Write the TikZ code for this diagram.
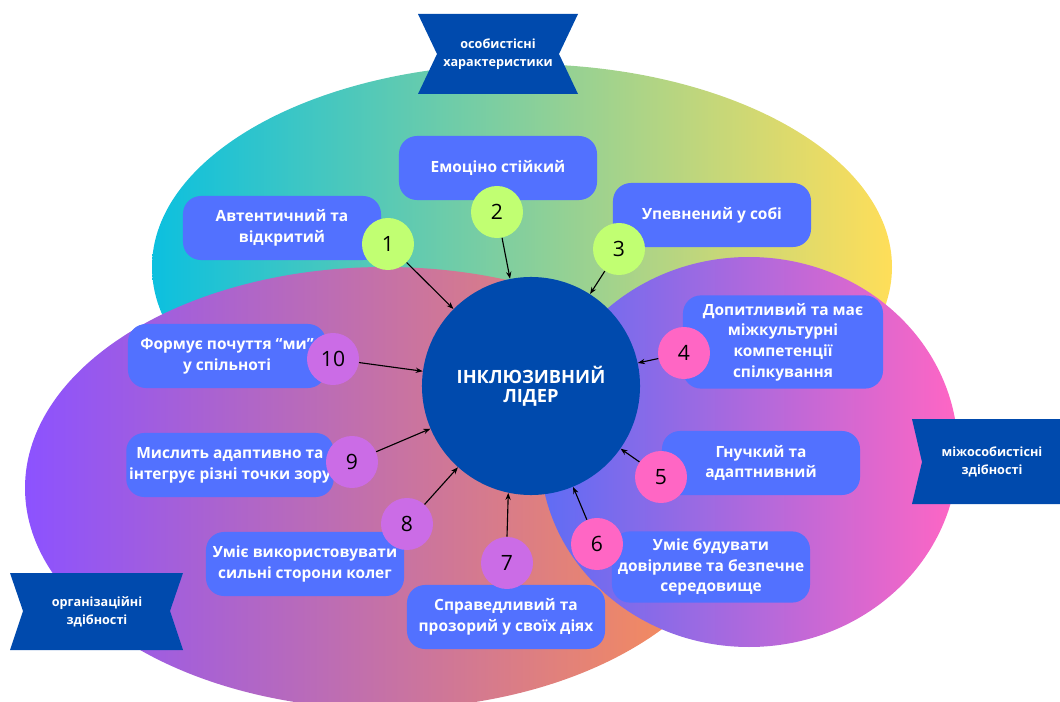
\documentclass[tikz,border=0pt]{standalone}
\usepackage{fontspec}
\setmainfont{Open Sans}
\usetikzlibrary{arrows.meta}
\definecolor{ilnavy}{HTML}{004AAD}
\definecolor{ilblue}{HTML}{5271FF}
\definecolor{ilteal}{HTML}{0CC0DF}
\definecolor{ilyellow}{HTML}{FFDE59}
\definecolor{ilviolet}{HTML}{8C52FF}
\definecolor{ilorange}{HTML}{FF914D}
\definecolor{ilindigo}{HTML}{5E6CF5}
\definecolor{ilpink}{HTML}{FF66C4}
\definecolor{illime}{HTML}{C1FF72}
\definecolor{ilorchid}{HTML}{CB6CE6}

\begin{document}
\begin{tikzpicture}[
    x=0.025cm, y=-0.025cm,
    item/.style={rectangle, fill=ilblue, rounded corners=0.45cm, minimum width=4.95cm, minimum height=1.6cm, inner sep=2pt, align=center, text=white, font=\fontsize{11}{14.7}\selectfont\bfseries},
    num/.style={circle, fill=#1, minimum size=1.3cm, inner sep=0pt, font=\fontsize{15}{15}\selectfont},
    num/.default=illime,
    band/.style={align=center, text=white, font=\fontsize{9}{13}\selectfont\bfseries},
    arrow/.style={-{Stealth[length=5pt]}, line width=0.8pt},
]
\useasboundingbox (0,0) rectangle (1060,702);

% Groups
\shade[left color=ilteal, right color=ilyellow] (522,267) ellipse [x radius=370, y radius=203];
\shade[left color=ilviolet, right color=ilorange] (385,488) ellipse [x radius=360, y radius=221];
\shade[left color=ilindigo, right color=ilpink] (749,452) ellipse [x radius=209, y radius=195];

% Group labels
\fill[ilnavy] (418,14) -- (578,14) -- (559,54) -- (578,94) -- (418,94) -- (437,54) -- cycle;
\node[band] (persband) at (498,54) {особистісні\\характеристики};
\fill[ilnavy] (912,419) -- (1060,419) -- (1060,504) -- (912,504) -- (922,462) -- cycle;
\node[band] (interband) at (992,462) {міжособистісні\\здібності};
\fill[ilnavy] (10,573) -- (183,573) -- (170,611) -- (183,650) -- (10,650) -- (23,611) -- cycle;
\node[band] (orgband) at (97,612) {організаційні\\здібності};

% Leader
\node[circle, fill=ilnavy, minimum size=5.45cm, align=center, text=white, font=\fontsize{13}{13.5}\selectfont\bfseries] (leader) at (531,386) {ІНКЛЮЗИВНИЙ\\ЛІДЕР};

% Qualities
\node[item] (q1) at (282,228) {Автентичний та\\відкритий};
\node[item] (q2) at (498,168) {Емоціно стійкий};
\node[item] (q3) at (712,215) {Упевнений у собі};
\node[item, minimum width=5cm, minimum height=2.33cm] (q4) at (783,342) {Допитливий та має\\міжкультурні\\компетенції\\спілкування};
\node[item] (q5) at (761,463) {Гнучкий та\\адаптнивний};
\node[item, minimum height=1.78cm] (q6) at (711,567) {Уміє будувати\\довірливе та безпечне\\середовище};
\node[item] (q7) at (506,617) {Справедливий та\\прозорий у своїх діях};
\node[item] (q8) at (305,564) {Уміє використовувати\\сильні сторони колег};
\node[item, minimum width=5.15cm] (q9) at (230,465) {Мислить адаптивно та\\інтегрує різні точки зору};
\node[item] (q10) at (227,356) {Формує почуття “ми”\\у спільноті};

% Numbers
\node[num] (n1) at (388,244) {1};
\node[num] (n2) at (497,212) {2};
\node[num] (n3) at (619,249) {3};
\node[num=ilpink] (n4) at (684,353) {4};
\node[num=ilpink] (n5) at (661,477) {5};
\node[num=ilpink] (n6) at (597,544) {6};
\node[num=ilorchid] (n7) at (507,563) {7};
\node[num=ilorchid] (n8) at (407,524) {8};
\node[num=ilorchid] (n9) at (352,462) {9};
\node[num=ilorchid] (n10) at (333,359) {10};

% Arrows
\foreach \i in {1,2,3,4,5,6,8,9,10}
    \draw[arrow] (n\i) -- (leader);
\draw[arrow] (n7.north) -- (leader.-102);

\end{tikzpicture}
\end{document}
